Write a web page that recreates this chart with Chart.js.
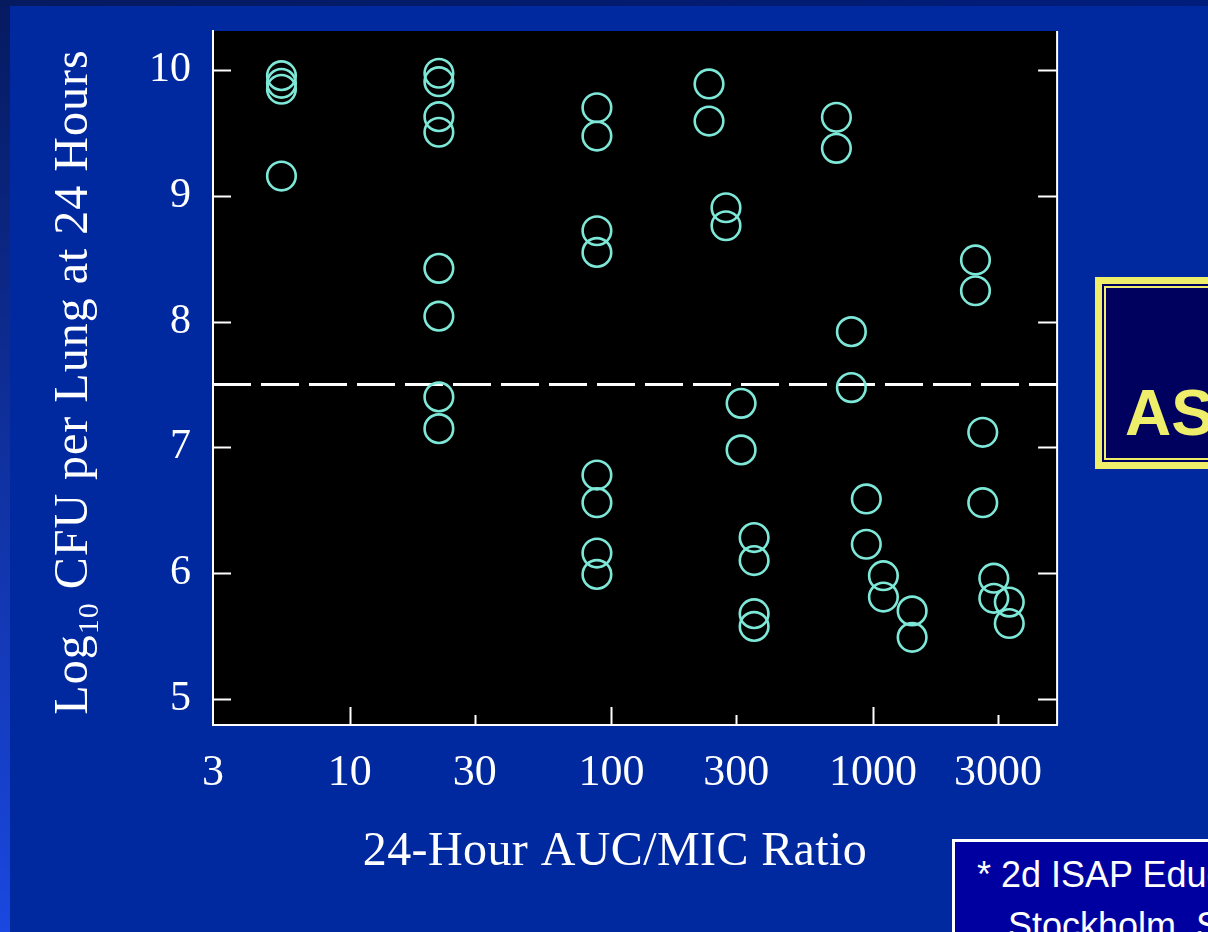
<!DOCTYPE html>
<html>
<head>
<meta charset="utf-8">
<title>CFU vs AUC/MIC</title>
<script src="https://cdn.jsdelivr.net/npm/chart.js@4/dist/chart.umd.min.js"></script>
<style>
    html, body { margin: 0; padding: 0; }
    body {
        width: 1208px; height: 932px; overflow: hidden; position: relative;
        background: #0029a0;
        font-family: "Liberation Sans", Arial, sans-serif;
    }
    .edge-left { position: absolute; left: 0; top: 0; width: 10px; height: 932px;
        background: linear-gradient(to bottom, #061a60, #1a48e0); }
    .edge-top { position: absolute; left: 0; top: 0; width: 1208px; height: 6px;
        background: linear-gradient(to right, #061a60, #001d7c); }
    #wrap { position: absolute; left: 0; top: 0; width: 1074px; height: 932px; }

    /* yellow framed box, cut by the right edge */
    .badge { position: absolute; left: 1095px; top: 277px; width: 200px; height: 178px;
        border: 7px solid #eeee6a; background: #00005e; }
    .badge .ring { position: absolute; left: 2px; top: 2px; right: 2px; bottom: 2px;
        border: 2px solid #eeee6a; }
    .badge span { position: absolute; left: 23px; top: 97px; font: bold 64px/64px "Liberation Sans", Arial, sans-serif;
        color: #eeee6a; white-space: nowrap; }

    /* footnote box, also cut */
    .note { position: absolute; left: 952px; top: 839px; width: 400px; height: 200px;
        border: 3px solid #ffffff; background: #0000a0; color: #fff; }
    .note div { position: absolute; white-space: nowrap; font: 36px/36px "Liberation Sans", Arial, sans-serif; }
</style>
</head>
<body>
<div class="edge-left"></div>
<div class="edge-top"></div>
<div id="wrap"><canvas id="cfuChart"></canvas></div>

<div class="badge"><div class="ring"></div><span>AS</span></div>
<div class="note">
    <div style="left:22px; top:15px;">* 2d ISAP Educational Workshop</div>
    <div style="left:53px; top:66px;">Stockholm, Sweden</div>
</div>

<script>
// axis ticks
const xTickValues = [3, 10, 30, 100, 300, 1000, 3000];
const yTickValues = [5, 6, 7, 8, 9, 10];
const xMajorTicks = [10, 100, 1000];
const xMinorTicks = [30, 300, 3000];

// 24-hour AUC/MIC ratio of each mouse
const aucMicRatio = [
    5.48, 5.48, 5.48, 5.48,
    21.9, 21.9, 21.9, 21.9, 21.9, 21.9, 21.9, 21.9,
    88, 88, 88, 88, 88, 88, 88, 88,
    236, 236,
    274, 274,
    313, 313,
    351, 351, 351, 351,
    724, 724,
    826, 826,
    942, 942,
    1095, 1095,
    1410, 1410,
    2462, 2462,
    2625, 2625,
    2893, 2893,
    3315, 3315
];

// log10 CFU per lung at 24 hours
const log10Cfu = [
    9.955, 9.894, 9.847, 9.157,
    9.974, 9.907, 9.629, 9.505, 8.423, 8.043, 7.401, 7.149,
    9.70, 9.475, 8.722, 8.55, 6.78, 6.56, 6.16, 5.99,
    9.889, 9.594,
    8.905, 8.762,
    7.35, 6.98,
    6.283, 6.10, 5.678, 5.577,
    9.624, 9.377,
    7.92, 7.475,
    6.59, 6.23,
    5.98, 5.81,
    5.70, 5.49,
    8.49, 8.245,
    7.12, 6.56,
    5.96, 5.80,
    5.77, 5.60
];

const thresholdCfu = 7.5;
const xRange = [3, 5050];
const yRange = [4.793, 10.31];

const serif = '"Liberation Serif", "Times New Roman", serif';

// inward tick marks, right frame line and the two axis titles
const slideAxes = {
    id: 'slideAxes',
    afterDraw(chart) {
        const { ctx, chartArea: a, scales: { x, y } } = chart;
        ctx.save();
        ctx.strokeStyle = '#ffffff';
        ctx.lineWidth = 2;
        ctx.beginPath();
        ctx.moveTo(a.right, a.top);
        ctx.lineTo(a.right, a.bottom);
        yTickValues.forEach(v => {
            const py = Math.round(y.getPixelForValue(v)) + 0.5;
            ctx.moveTo(a.left, py); ctx.lineTo(a.left + 18, py);
            ctx.moveTo(a.right - 19, py); ctx.lineTo(a.right, py);
        });
        xMajorTicks.forEach(v => {
            const px = Math.round(x.getPixelForValue(v)) + 0.5;
            ctx.moveTo(px, a.bottom); ctx.lineTo(px, a.bottom - 18);
        });
        xMinorTicks.forEach(v => {
            const px = Math.round(x.getPixelForValue(v)) + 0.5;
            ctx.moveTo(px, a.bottom); ctx.lineTo(px, a.bottom - 10);
        });
        ctx.stroke();

        ctx.fillStyle = '#ffffff';
        ctx.textBaseline = 'alphabetic';

        // x title
        ctx.font = '48px ' + serif;
        ctx.letterSpacing = '0.4px';
        ctx.textAlign = 'center';
        ctx.fillText('24-Hour AUC/MIC Ratio', 615, 865);

        // y title with subscript
        ctx.letterSpacing = '1px';
        ctx.textAlign = 'left';
        const big = '48px ' + serif, small = '30px ' + serif;
        const parts = ['Log', '10', ' CFU per Lung at 24 Hours'];
        ctx.font = big; const w0 = ctx.measureText(parts[0]).width;
        ctx.font = small; const w1 = ctx.measureText(parts[1]).width;
        ctx.font = big; const w2 = ctx.measureText(parts[2]).width;
        const total = w0 + w1 + w2;
        ctx.translate(87, 382);
        ctx.rotate(-Math.PI / 2);
        let u = -total / 2;
        ctx.font = big; ctx.fillText(parts[0], u, 0); u += w0;
        ctx.font = small; ctx.fillText(parts[1], u, 11); u += w1;
        ctx.font = big; ctx.fillText(parts[2], u, 0);
        ctx.restore();
    }
};

new Chart(document.getElementById('cfuChart'), {
    type: 'scatter',
    data: {
        datasets: [
            {
                label: 'Mice',
                data: aucMicRatio.map((r, i) => ({ x: r, y: log10Cfu[i] })),
                pointStyle: 'circle',
                pointRadius: 14.3,
                pointHoverRadius: 14.3,
                borderWidth: 2.6,
                borderColor: '#7ee8d8',
                backgroundColor: 'rgba(0,0,0,0)',
                order: 1
            },
            {
                type: 'line',
                label: 'Threshold',
                data: xRange.map(r => ({ x: r, y: thresholdCfu })),
                borderColor: '#ffffff',
                borderWidth: 3,
                borderDash: [38, 10],
                pointRadius: 0,
                fill: false,
                order: 2
            }
        ]
    },
    options: {
        responsive: true,
        maintainAspectRatio: false,
        animation: false,
        layout: { padding: { top: 31, right: 5, left: 0, bottom: 0 } },
        plugins: { legend: { display: false }, tooltip: { enabled: false } },
        scales: {
            x: {
                type: 'logarithmic',
                min: xRange[0],
                max: xRange[1],
                afterBuildTicks: s => { s.ticks = xTickValues.map(v => ({ value: v })); },
                afterFit: s => { s.height = 207; s.paddingLeft = 0; s.paddingRight = 0; },
                grid: { display: false, drawTicks: false },
                border: { display: true, color: '#ffffff', width: 2 },
                ticks: {
                    color: '#ffffff',
                    font: { family: serif, size: 44 },
                    padding: 22,
                    maxRotation: 0,
                    autoSkip: false,
                    callback: v => String(v)
                }
            },
            y: {
                type: 'linear',
                min: yRange[0],
                max: yRange[1],
                afterBuildTicks: s => { s.ticks = yTickValues.map(v => ({ value: v })); },
                afterFit: s => { s.width = 213; s.paddingTop = 0; s.paddingBottom = 0; },
                grid: { display: false, drawTicks: false },
                border: { display: true, color: '#ffffff', width: 2 },
                ticks: {
                    color: '#ffffff',
                    font: { family: serif, size: 42 },
                    padding: 22,
                    callback: v => String(v)
                }
            }
        }
    },
    plugins: [
        {
            id: 'plotBackground',
            beforeDraw(chart) {
                const { ctx, chartArea: a } = chart;
                ctx.save();
                ctx.fillStyle = '#000000';
                ctx.fillRect(a.left, a.top, a.right - a.left, a.bottom - a.top);
                ctx.restore();
            }
        },
        slideAxes
    ]
});
</script>
</body>
</html>
